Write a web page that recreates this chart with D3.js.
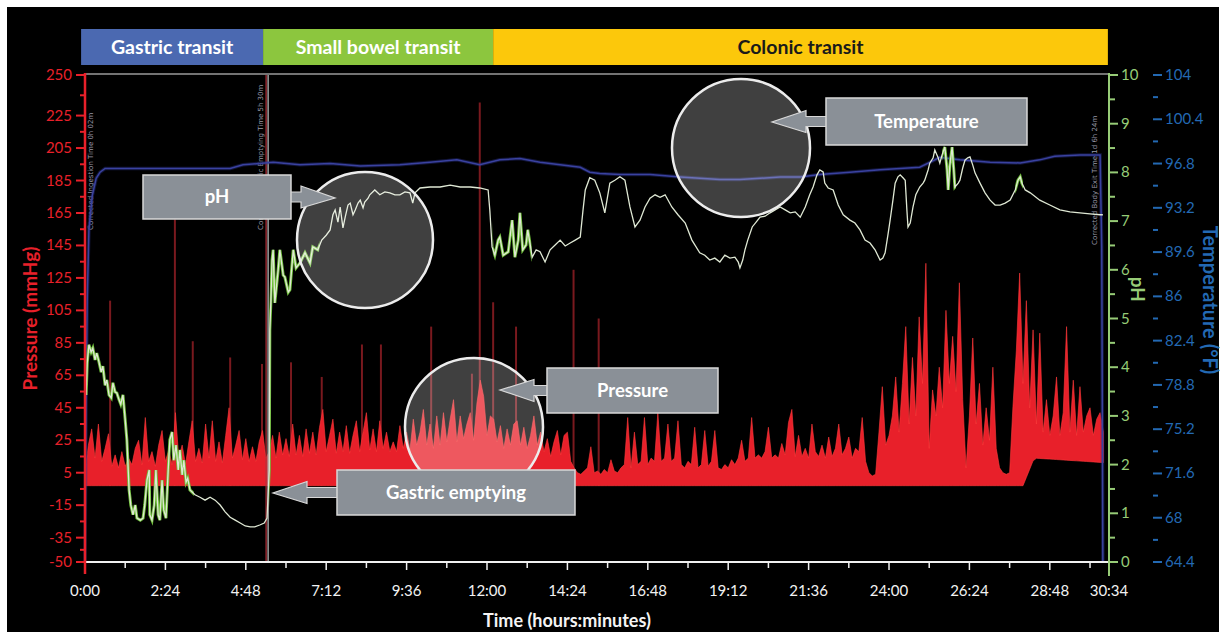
<!DOCTYPE html>
<html><head><meta charset="utf-8">
<script src="https://cdn.jsdelivr.net/npm/d3@7"></script>
<style>
html,body{margin:0;padding:0;background:#fff;}
svg{display:block;font-family:Lato,"Open Sans",sans-serif;}
</style></head><body>
<svg id="chart" width="1226" height="639"></svg>
<script>
// ---------------- DATA ----------------
const phaseNames = ["Gastric transit", "Small bowel transit", "Colonic transit"];
const phaseBounds = [-7, 319, 731, 1832];           // minutes
const phaseColors = ["#4b69b1", "#8cc63e", "#fcc80b"];
const phaseTextColors = ["#ffffff", "#ffffff", "#1a1a1a"];

const timeTicks = [0, 144, 288, 432, 576, 720, 864, 1008, 1152, 1296, 1440, 1584, 1728, 1834];
const timeTickLabels = ["0:00","2:24","4:48","7:12","9:36","12:00","14:24","16:48","19:12","21:36","24:00","26:24","28:48","30:34"];
const pressureTicks = [250, 225, 205, 185, 165, 145, 125, 105, 85, 65, 45, 25, 5, -15, -35, -50];
const phTicks = [0,1,2,3,4,5,6,7,8,9,10];
const tempTicks = [64.4, 68, 71.6, 75.2, 78.8, 82.4, 86, 89.6, 93.2, 96.8, 100.4, 104];
const tempTickLabels = ["64.4","68","71.6","75.2","78.8","82.4","86","89.6","93.2","96.8","100.4","104"];

// pressure (mmHg), upper envelope sampled every 6 minutes from 0:00
const pressureStep = 6;
const pressureHigh = [
 5,22,32,14,35,12,20,29,9,16, 8,18,9,14,10,20,25,10,39,12, 18,9,22,31,12,19,10,42,14,22,
 10,24,37,12,20,11,35,14,37,12, 24,11,28,45,14,22,31,13,26,12, 21,12,24,31,14,
 18,28,14,30,16,26,15,35,16,28, 15,32,17,30,16,33,44,18,28,38, 17,30,18,34,17,28,37,18,30,42,
 19,32,18,37,20,30,18,24,18,34, 20,30,19,38,22,30,44,22,35,20, 40,22,42,24,38,50,24,40,26,35,
 42,25,48,62,52,28,40,38,24,34, 20,32,22,35,37,22,33,20,28,40, 22,30,18,26,15,24,31,16,28,30, 12,8,
 5,4,6,8,21,5,6,4,7,5, 13,6,5,8,10,39,8,30,10,12, 39,10,14,12,42,12,14,35,12,14,
 37,10,8,12,10,33,8,10,31,9, 12,31,8,7,10,8,13,10,14,25, 12,14,39,14,16,14,18,33,14,16,
 14,23,16,36,44,15,28,15,20,14, 35,18,15,22,14,27,15,20,35,16, 20,27,14,20,18,39,12,5,3,4,
 30,58,22,28,40,64,30,60,95,35, 76,40,101,60,134,20,56,40,70,45, 105,60,89,55,122,50,8,40,88,35,
 60,22,45,25,70,20,8,5,4,5,
 46,80,128,60,111,45,93,35,91,30, 50,28,40,64,28,42,95,30,62,28, 58,30,40,45,28,38,42,30
];
// pressure lower envelope (baseline) knots
const pressureLowTime = [0, 1680, 1700, 1834];
const pressureLowValue = [-3, -3, 14, 11];
// isolated tall pressure artefact spikes
const spikeTime =  [45, 161, 193, 260, 317, 369, 424, 496, 530, 620, 693, 707, 731, 772, 875, 920];
const spikeValue = [111, 161, 86, 76, 72, 73, 64, 84, 84, 95, 66, 233, 110, 95, 130, 100];

// pH
const phTime = [
 2,4,7,11,14,18,21,25,29,32, 36,39,43,47,50,54,57,61,64,68, 72,75,79,82,86,90,93,99,104,107,
 111,115,116,120,124,127,131,134,138,141, 145,149,152,156,159,163,167,170,174,177,
 181,184,188,197,206,215,224,233,242,251, 260,269,278,287,296,304,313,321,326,
 330,331,333,335,337,340,346,349,355,358, 364,367,373,378,385,394,403,408,417,424,
 432,439,444,448,453,457,462,466,471,475, 480,484,489,493,498,501,507,510,519,528,
 537,546,555,564,573,582,587,591,600,618, 636,654,672,690,707,722,
 725,729,734,740,743,749,758,765,770,776, 779,784,790,793,801,808,815,824,833,842, 851,860,869,878,887,
 892,896,904,913,922,931,940,949,958,967, 976,985,994,1003,1012,1021,1030,1039,1051,1062, 1075,1087,1101,
 1110,1119,1128,1137,1146,1155,1164,1170,1173,1178, 1182,1187,1195,1202,1209,1218,1227,1236,1245,1254,
 1263,1272,1281,1290,1298,1304,1311,1316,1322,1325, 1331,1340,1349,1358,1370,1379,1388,1397,1406,1415, 1424,
 1429,1433,1438,1442,1447,1451,1456,1460,1465,1469, 1472,1474,1478,1483,1488,1495,1501,1504,1510,1513,
 1519,1522,1528,1531,1535,1540,1544,1546,1549,1553, 1556,1558,1564,1567,1572,1576,1581,1585,1590,1594,
 1603,1612,1621,1630,1639,1648,1657,1666,1671,1675, 1678,1684,1693,1710,1728,1746,1764,1782,1800,1818, 1823
];
const phValue = [
 3.43,4.09,4.46,4.31,4.39,4.15,4.29,4.11,3.90,4.02, 3.63,3.74,3.43,3.37,3.68,3.49,3.47,3.33,3.24,3.43,
 2.92,2.51,1.48,1.17,0.97,1.17,0.90,0.86,0.90,1.17, 1.68,1.89,0.97,0.86,1.17,1.89,0.97,0.86,1.68,1.07,
 0.90,1.89,2.51,2.67,2.09,2.40,1.89,2.30,1.79,2.09, 1.64,1.72,1.48,1.38,1.33,1.27,1.33,1.27,1.17,1.03,
 0.92,0.86,0.80,0.74,0.72,0.72,0.76,0.80,0.90,
 1.89,4.76,5.38,6.20,6.41,5.32,6.00,6.41,5.89,5.85, 5.54,5.59,6.41,6.04,6.14,6.35,6.14,6.47,6.41,6.61,
 6.71,6.82,7.13,7.23,6.98,7.29,6.86,7.08,7.33,7.37, 7.13,7.23,7.37,7.43,7.27,7.39,7.47,7.54,7.64,7.54,
 7.60,7.58,7.54,7.54,7.60,7.58,7.37,7.58,7.68,7.70, 7.70,7.74,7.70,7.70,7.68,7.64,
 7.23,6.47,6.30,6.61,6.67,6.30,6.37,7.02,6.26,6.61, 7.17,6.41,6.51,6.82,6.26,6.41,6.37,6.16,6.41,6.51, 6.61,6.49,6.55,6.61,6.67,
 7.23,7.64,7.89,7.84,7.58,7.17,7.78,7.84,7.91,7.84, 7.29,6.88,7.02,7.29,7.47,7.54,7.49,7.54,7.29,7.13, 6.96,6.61,6.35,
 6.30,6.20,6.24,6.16,6.30,6.24,6.26,6.16,6.04,6.20, 6.41,6.61,6.88,6.98,7.08,7.10,7.17,7.23,7.29,7.23,
 7.17,7.19,7.08,7.29,7.54,7.70,7.95,8.05,8.01,7.78, 7.68,7.64,7.33,7.13,7.02,6.96,6.82,6.61,6.55,6.41, 6.20,
 6.24,6.35,6.71,7.02,7.43,7.78,7.91,7.95,7.89,7.84, 7.23,6.88,6.96,7.29,7.54,7.70,7.78,7.84,8.05,8.19,
 8.30,8.46,8.30,8.19,8.36,8.52,8.05,7.64,8.15,8.52, 8.05,7.70,7.78,7.84,8.09,8.25,8.30,8.32,8.15,7.99,
 7.78,7.58,7.43,7.33,7.33,7.37,7.43,7.64,7.84,7.91, 7.78,7.64,7.58,7.43,7.33,7.23,7.19,7.17,7.15,7.13, 7.13
];
// time ranges where the pH trace is highlighted green
const phGreenStart = [0, 330, 730, 1535, 1666];
const phGreenEnd   = [195, 420, 800, 1560, 1680];

// temperature (°F)
const tempTime = [0,2,4,7,13,20,27,36,81,170, 260,283,337,385,439,493,564,618,666,707,
 743,779,815,851,887,904,922,958,1012,1066, 1101,1137,1173,1209,1245,1281,1316,1370,1424,1460,
 1495,1513,1531,1567,1621,1675,1710,1737,1782,1818, 1821,1823];
const tempValue = [64.4,77.6,85.7,91.4,94.2,95.6,96.1,96.4,96.4,96.4, 96.4,96.7,96.9,96.7,96.8,96.6,96.7,96.9,97.1,96.7,
 97.1,97.2,96.9,96.7,96.5,96.1,96.0,95.9,95.9,95.7, 95.6,95.5,95.5,95.6,95.7,95.7,95.9,96.1,96.3,96.4,
 96.5,96.9,97.3,97.1,96.9,96.85,97.1,97.4,97.5,97.5, 90.0,64.4];

// event markers (minutes)
const eventTime = [4, 328, 1823];
const eventText = ["Corrected Ingestion Time 0h 02m", "Corrected Gastric Emptying Time 5h 30m", "Corrected Body Exit Time 1d 6h 24m"];

// ---------------- LAYOUT ----------------
const W = 1226, H = 639;
const L = {left: 85, right: 1109, top: 75, bottom: 562};
const colors = {red: "#e8202a", green: "#97cc77", blue: "#2369b3", tempLine: "#3a42a0"};
const callouts = [
  {label: "pH",               box: [143, 175, 148, 44], tip: [335, 198], side: "right", circle: [365, 240, 68]},
  {label: "Temperature",      box: [826, 98, 201, 47],  tip: [772, 122], side: "left",  circle: [741, 148, 69]},
  {label: "Pressure",         box: [547, 368, 171, 45], tip: [500, 390], side: "left",  circle: [474, 427, 69]},
  {label: "Gastric emptying", box: [337, 470, 238, 45], tip: [273, 493], side: "left",  circle: null}
];

const svg = d3.select("#chart");
svg.append("rect").attr("x", 7).attr("y", 7).attr("width", W - 14).attr("height", H - 14).attr("fill", "#000");

const x = d3.scaleLinear().domain([0, 1834]).range([L.left, L.right]);
const yP = d3.scaleLinear().domain([-50, 250]).range([L.bottom, L.top]);
const yPH = d3.scaleLinear().domain([0, 10]).range([L.bottom, L.top]);
const yT = d3.scaleLinear().domain([64.4, 104]).range([L.bottom, L.top]);
const lowScale = d3.scaleLinear().domain(pressureLowTime).range(pressureLowValue);

// banner
const banner = svg.append("g");
phaseNames.forEach((n, i) => {
  const x0 = x(phaseBounds[i]), x1 = x(phaseBounds[i + 1]);
  banner.append("rect").attr("x", x0).attr("y", 29).attr("width", x1 - x0).attr("height", 36).attr("fill", phaseColors[i]);
  banner.append("text").attr("x", (x0 + x1) / 2).attr("y", 54).attr("text-anchor", "middle")
    .attr("font-size", 19.5).attr("font-weight", 700).attr("fill", phaseTextColors[i]).text(n);
});

// top border line
svg.append("line").attr("x1", L.left).attr("x2", L.right).attr("y1", L.top - 1).attr("y2", L.top - 1)
  .attr("stroke", "#9a9a9a").attr("stroke-width", 1.5);

// pressure
const pIdx = d3.range(pressureHigh.length);
const pArea = d3.area()
  .x(i => x(i * pressureStep))
  .y0(i => yP(lowScale(i * pressureStep)))
  .y1(i => yP(pressureHigh[i]));
const spikesG = svg.append("g");
spikeTime.forEach((t, i) => {
  spikesG.append("line").attr("x1", x(t)).attr("x2", x(t)).attr("y1", yP(-3)).attr("y2", yP(spikeValue[i]))
    .attr("stroke", "#8f1e24").attr("stroke-width", 2).attr("opacity", 0.85);
});
svg.append("path").datum(pIdx).attr("d", pArea).attr("fill", colors.red).attr("stroke", "#ff3b3b").attr("stroke-width", 0.6);

// event lines
svg.append("line").attr("x1", x(eventTime[1]) - 2).attr("x2", x(eventTime[1]) - 2).attr("y1", L.top).attr("y2", L.bottom)
  .attr("stroke", "#b8323c").attr("stroke-width", 1.5).attr("opacity", 0.8);
svg.append("line").attr("x1", x(eventTime[1])).attr("x2", x(eventTime[1])).attr("y1", L.top).attr("y2", L.bottom)
  .attr("stroke", "#a0a0a0").attr("stroke-width", 1.5);
eventText.forEach((t, i) => {
  const xx = x(eventTime[i]) + (i === 2 ? -6 : (i === 0 ? 6 : -5));
  svg.append("text").attr("transform", `translate(${xx},${i === 2 ? 245 : 230}) rotate(-90)`)
    .attr("font-size", 7).attr("fill", "#9a9aa8").attr("font-family", "DejaVu Sans").text(t);
});

// temperature
const tLine = d3.line().x((d, i) => x(tempTime[i])).y((d) => yT(d));
svg.append("path").datum(tempValue).attr("d", tLine).attr("fill", "none").attr("stroke", "#2c3590").attr("stroke-width", 3.5).attr("opacity", 0.4);
svg.append("path").datum(tempValue).attr("d", tLine).attr("fill", "none").attr("stroke", colors.tempLine).attr("stroke-width", 1.5);

// pH
const phLine = d3.line().x((d, i) => x(phTime[i])).y(d => yPH(d));
const defs = svg.append("defs");
const cp = defs.append("clipPath").attr("id", "greenClip");
phGreenStart.forEach((s, i) => {
  cp.append("rect").attr("x", x(s)).attr("y", L.top).attr("width", x(phGreenEnd[i]) - x(s)).attr("height", L.bottom - L.top);
});
svg.append("path").datum(phValue).attr("d", phLine).attr("fill", "none").attr("stroke", "#6fbf3a")
  .attr("stroke-width", 3).attr("clip-path", "url(#greenClip)");
svg.append("path").datum(phValue).attr("d", phLine).attr("fill", "none").attr("stroke", "#dfe8d4").attr("stroke-width", 1.3);

// axes: x
const xAxisG = svg.append("g");
xAxisG.append("line").attr("x1", 76).attr("x2", L.right).attr("y1", L.bottom).attr("y2", L.bottom).attr("stroke", "#f0f0f0").attr("stroke-width", 2);
timeTicks.forEach((t, i) => {
  xAxisG.append("line").attr("x1", x(t)).attr("x2", x(t)).attr("y1", L.bottom).attr("y2", L.bottom + 8).attr("stroke", "#f0f0f0").attr("stroke-width", 1.5);
  xAxisG.append("text").attr("x", x(t)).attr("y", 596).attr("text-anchor", "middle").attr("font-size", 15).attr("fill", "#f2f2f2").text(timeTickLabels[i]);
});
d3.pairs(timeTicks.slice(0, -1)).forEach(([a, b]) => {
  const m = (a + b) / 2;
  xAxisG.append("line").attr("x1", x(m)).attr("x2", x(m)).attr("y1", L.bottom).attr("y2", L.bottom + 6).attr("stroke", "#f0f0f0").attr("stroke-width", 1.5);
});
xAxisG.append("line").attr("x1", x(1800)).attr("x2", x(1800)).attr("y1", L.bottom).attr("y2", L.bottom + 6).attr("stroke", "#f0f0f0").attr("stroke-width", 1.5);
svg.append("text").attr("x", 567).attr("y", 627).attr("text-anchor", "middle").attr("font-size", 18).attr("font-weight", 700)
  .attr("fill", "#f4f4f4").text("Time (hours:minutes)");

// pressure axis
const pAx = svg.append("g");
pAx.append("line").attr("x1", L.left).attr("x2", L.left).attr("y1", L.top - 2).attr("y2", L.bottom + 12).attr("stroke", colors.red).attr("stroke-width", 2.5);
pressureTicks.forEach(v => {
  pAx.append("line").attr("x1", L.left - 9).attr("x2", L.left).attr("y1", yP(v)).attr("y2", yP(v)).attr("stroke", colors.red).attr("stroke-width", 2);
  pAx.append("text").attr("x", L.left - 13).attr("y", yP(v) + 5).attr("text-anchor", "end").attr("font-size", 15).attr("fill", colors.red).text(v);
});
d3.pairs(pressureTicks).forEach(([a, b]) => {
  pAx.append("line").attr("x1", L.left - 5).attr("x2", L.left).attr("y1", yP((a + b) / 2)).attr("y2", yP((a + b) / 2)).attr("stroke", colors.red).attr("stroke-width", 2);
});
svg.append("text").attr("transform", `translate(37,${(L.top + L.bottom) / 2}) rotate(-90)`).attr("text-anchor", "middle")
  .attr("font-size", 19).attr("font-weight", 700).attr("fill", colors.red).text("Pressure (mmHg)");

// pH axis
const phAx = svg.append("g");
phAx.append("line").attr("x1", L.right).attr("x2", L.right).attr("y1", L.top - 2).attr("y2", L.bottom + 14).attr("stroke", colors.green).attr("stroke-width", 2);
phTicks.forEach(v => {
  phAx.append("line").attr("x1", L.right).attr("x2", L.right + 9).attr("y1", yPH(v)).attr("y2", yPH(v)).attr("stroke", colors.green).attr("stroke-width", 2);
  phAx.append("text").attr("x", L.right + 12).attr("y", yPH(v) + 5).attr("font-size", 15).attr("fill", colors.green).text(v);
});
d3.pairs(phTicks).forEach(([a, b]) => {
  phAx.append("line").attr("x1", L.right).attr("x2", L.right + 6).attr("y1", yPH((a + b) / 2)).attr("y2", yPH((a + b) / 2)).attr("stroke", colors.green).attr("stroke-width", 2);
});
svg.append("text").attr("transform", `translate(1131,${yPH(5.6)}) rotate(90)`).attr("text-anchor", "middle")
  .attr("font-size", 19).attr("font-weight", 700).attr("fill", colors.green).text("pH");

// temperature axis
const tAx = svg.append("g");
tempTicks.forEach((v, i) => {
  tAx.append("line").attr("x1", 1153).attr("x2", 1162).attr("y1", yT(v)).attr("y2", yT(v)).attr("stroke", colors.blue).attr("stroke-width", 2);
  tAx.append("text").attr("x", 1165).attr("y", yT(v) + 5).attr("font-size", 15).attr("fill", colors.blue).text(tempTickLabels[i]);
});
d3.pairs(tempTicks).forEach(([a, b]) => {
  tAx.append("line").attr("x1", 1153).attr("x2", 1158).attr("y1", yT((a + b) / 2)).attr("y2", yT((a + b) / 2)).attr("stroke", colors.blue).attr("stroke-width", 2);
});
svg.append("text").attr("transform", `translate(1203,${yT(85.7)}) rotate(90)`).attr("text-anchor", "middle")
  .attr("font-size", 20).attr("font-weight", 700).attr("fill", colors.blue).text("Temperature (°F)");

// callouts
const cg = svg.append("g");
callouts.forEach(c => {
  if (c.circle) {
    cg.append("circle").attr("cx", c.circle[0]).attr("cy", c.circle[1]).attr("r", c.circle[2])
      .attr("fill", "#ffffff").attr("fill-opacity", 0.25).attr("stroke", "#ececec").attr("stroke-width", 2.5);
  }
});
callouts.forEach(c => {
  const [bx, by, bw, bh] = c.box;
  const cy = by + bh / 2;
  const edge = c.side === "right" ? bx + bw : bx;
  const dir = c.side === "right" ? 1 : -1;
  const headBase = c.tip[0] - dir * 34;
  const p = [[edge, cy - 5], [headBase, cy - 5], [headBase, cy - 11], c.tip, [headBase, cy + 11], [headBase, cy + 5], [edge, cy + 5]];
  cg.append("path").attr("d", d3.line()(p)).attr("fill", "#8a9097").attr("stroke", "#d8d8d8").attr("stroke-width", 1.2);
  cg.append("rect").attr("x", bx).attr("y", by).attr("width", bw).attr("height", bh)
    .attr("fill", "#8a9097").attr("stroke", "#d8d8d8").attr("stroke-width", 1.5);
  cg.append("text").attr("x", bx + bw / 2).attr("y", cy + 6).attr("text-anchor", "middle")
    .attr("font-size", 18.5).attr("font-weight", 700).attr("fill", "#fff").text(c.label);
});
</script>
</body></html>
